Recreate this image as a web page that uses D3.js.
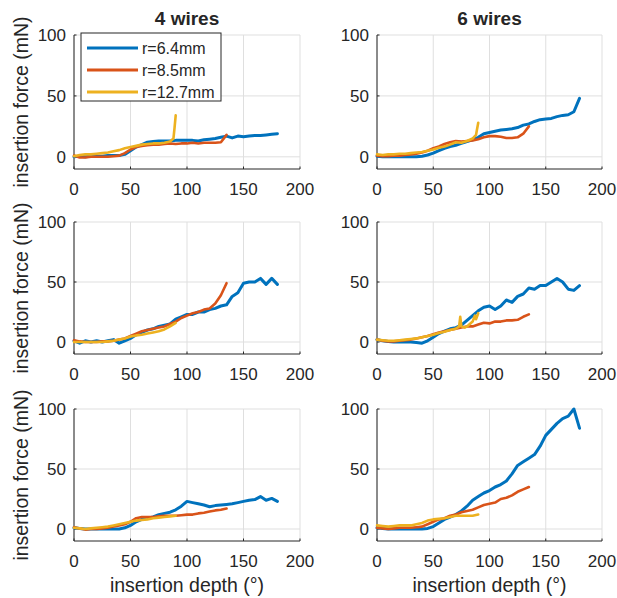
<!DOCTYPE html>
<html>
<head>
<meta charset="utf-8">
<script src="https://cdn.jsdelivr.net/npm/d3@7"></script>
<style>
  body { margin: 0; background: #fff; }
  text { font-family: "Liberation Sans", Arial, sans-serif; fill: #262626; }
</style>
</head>
<body>
<div id="chart"></div>
<script>
// insertion depth grids (deg)
const depth180 = [0,5,10,15,20,25,30,35,40,45,50,55,60,65,70,75,80,85,90,95,100,105,110,115,120,125,130,135,140,145,150,155,160,165,170,175,180];
const depth135 = [0,5,10,15,20,25,30,35,40,45,50,55,60,65,70,75,80,85,90,95,100,105,110,115,120,125,130,135];
const depth90 = [0,5,10,15,20,25,30,35,40,45,50,55,60,65,70,75,80,85,90];
const depth90spike = [0,5,10,15,20,25,30,35,40,45,50,55,60,65,70,75,80,85,88,89,90];
const depth90kink = [0,5,10,15,20,25,30,35,40,45,50,55,60,65,70,73,74,75,78,80,85,87,88,90];

// 4 wires, trial 1
const a_r64 = [0,0.5,0,0.5,0.5,0.5,1,1,1,2,5,8,10,12,12.5,13,13,13,13.5,13.5,13.5,13.5,13,14,14.5,15,16,17,15.5,17,16.5,17,17.5,17.5,18,18.5,19];
const a_r85 = [1,-0.5,-0.5,0,0,0,0,0.5,1,3,6,8,9,9.5,10,10,10.5,11,10.5,11,11,11.5,11,11.5,11.5,11.5,12,18];
const a_r127 = [0.5,1.5,2,2,2.5,3,3.5,4.5,5.5,7,8,9,10,10.5,11,11,11.5,12.5,15,24,34];
// 6 wires, trial 1
const b_r64 = [0.5,0,0,0,0,0,0,0,0.5,1.5,3,5,7,8.5,9.5,11,12.5,14,16,19,20,21,22,22.5,23,24,26,27,29,30.5,31,31.5,33,34,34.5,37,48];
const b_r85 = [1,0.5,0.5,1,1,1.5,2,2.5,3.5,5,7,8.5,10.5,12,13,12.5,13,13.5,14.5,16,17,17,16.5,15.5,15.5,16,19,25];
const b_r127 = [2,1.5,2,2,2.5,2.5,3,3.5,4,5,6,7.5,8.5,10,12,11.5,13,15,18,23,28];
// 4 wires, trial 2
const c_r64 = [1,-1,1,0,1,0,1,2,-1,1,3,6,8,10,11,13,14,15,19,21,23,23,25,25,27,28,30,31,38,41,49,50,50,53,48,53,48];
const c_r85 = [1.5,0.5,0,0,0,0.5,0.5,1,2,3,5,7,9,10,11,12,13,15,17,20,22,24,25,27,28,32,39,49];
const c_r127 = [0,0,0,0,0,0,0.5,1,2,3,4.5,5.5,6,7,8,9,10.5,13,16];
// 6 wires, trial 2
const d_r64 = [2,1,0.5,0,0,0,0,-0.5,-1,1,4,7,9,11,12,14,18,22,26,29,30,27,30,35,33,38,40,45,44,47,47,50,53,50,44,43,47];
const d_r85 = [2,1,0.5,0.5,1,1.5,2,3,4,5,6.5,8,9,10,11,12,13,13,14.5,16,15.5,17,17,18,18,18.5,21,23];
const d_r127 = [2,1.5,1,1,1.5,2,2.5,3,4,5,6,7.5,8.5,10,11,13,21,13,12,13,17,22,19,24];
// 4 wires, trial 3
const e_r64 = [1,0.5,0,0,0,0,0,0,0,1,3,6,8,9,10,12,13,14,16,19,23,22,21,20,18.5,19.5,20,20.5,21,22,23,24,24.5,27,24,25.5,23];
const e_r85 = [1.5,0.5,-0.5,0,0,0.5,1,2,3,4,6,9,10,10,10,10.5,11,11,11,11.5,12,12,13,13.5,14.5,15.5,16,17];
const e_r127 = [1,0.5,0,0.5,1,1.5,2,3,4,5,6,7,7.5,8,9,9.5,10,10.5,11];
// 6 wires, trial 3
const f_r64 = [1,0.5,0,0,0,0,0,0,0,0.5,2,5,8,10,12,15,19,24,27,30,32,35,37,40,46,53,56,59,62,69,78,83,88,92,94,100,84];
const f_r85 = [1,0.5,0,0.5,1,1,1,1.5,2,4,6,8,9,11,12,14,15,16,18,20,21,22,25,26,28,31,33,35];
const f_r127 = [3,2.5,2,2.5,3,3,3,4,5,7,8,8.5,9,10,11,11,11,11,12];

const radii = ["r=6.4mm", "r=8.5mm", "r=12.7mm"];
const colors = ["#0072BD", "#D95319", "#EDB120"];
const titles = ["4 wires", "6 wires"];
const xTicks = [0, 50, 100, 150, 200];
const yTicks = [0, 50, 100];

// panels: [row][col] -> three series (x, y)
const panels = [
  [[[depth180, a_r64], [depth135, a_r85], [depth90spike, a_r127]],
   [[depth180, b_r64], [depth135, b_r85], [depth90spike, b_r127]]],
  [[[depth180, c_r64], [depth135, c_r85], [depth90, c_r127]],
   [[depth180, d_r64], [depth135, d_r85], [depth90kink, d_r127]]],
  [[[depth180, e_r64], [depth135, e_r85], [depth90, e_r127]],
   [[depth180, f_r64], [depth135, f_r85], [depth90, f_r127]]]
];

const W = 617, H = 598;
const cols = [{x0: 74, x1: 300}, {x0: 377, x1: 602}];
const rows = [{y0: 35, y1: 169}, {y0: 222, y1: 354}, {y0: 409, y1: 541}];

const svg = d3.select("#chart").append("svg")
  .attr("width", W)
  .attr("height", H);

const line = d3.line().curve(d3.curveLinear);

rows.forEach((r, ri) => {
  cols.forEach((c, ci) => {
    const x = d3.scaleLinear().domain([0, 200]).range([c.x0, c.x1]);
    const y = d3.scaleLinear().domain([-10, 100]).range([r.y1, r.y0]);
    const g = svg.append("g");

    // grid
    g.selectAll(".gx").data(xTicks).enter().append("line")
      .attr("x1", d => x(d)).attr("x2", d => x(d))
      .attr("y1", r.y0).attr("y2", r.y1)
      .attr("stroke", "#dfdfdf").attr("stroke-width", 1);
    g.selectAll(".gy").data(yTicks).enter().append("line")
      .attr("x1", c.x0).attr("x2", c.x1)
      .attr("y1", d => y(d)).attr("y2", d => y(d))
      .attr("stroke", "#dfdfdf").attr("stroke-width", 1);

    // axis lines (left + bottom)
    g.append("line").attr("x1", c.x0).attr("x2", c.x0).attr("y1", r.y0).attr("y2", r.y1)
      .attr("stroke", "#262626");
    g.append("line").attr("x1", c.x0).attr("x2", c.x1).attr("y1", r.y1).attr("y2", r.y1)
      .attr("stroke", "#262626");
    // small inward ticks
    g.selectAll(".tx").data(xTicks).enter().append("line")
      .attr("x1", d => x(d)).attr("x2", d => x(d))
      .attr("y1", r.y1).attr("y2", r.y1 - 2.5).attr("stroke", "#262626");
    g.selectAll(".ty").data(yTicks).enter().append("line")
      .attr("x1", c.x0).attr("x2", c.x0 + 2.5)
      .attr("y1", d => y(d)).attr("y2", d => y(d)).attr("stroke", "#262626");

    // tick labels
    g.selectAll(".lx").data(xTicks).enter().append("text")
      .attr("x", d => x(d)).attr("y", r.y1 + 26)
      .attr("text-anchor", "middle").attr("font-size", 17)
      .text(d => d);
    g.selectAll(".ly").data(yTicks).enter().append("text")
      .attr("x", c.x0 - 8).attr("y", d => y(d)).attr("dy", "0.36em")
      .attr("text-anchor", "end").attr("font-size", 17)
      .text(d => d);

    // series
    panels[ri][ci].forEach((s, si) => {
      const pts = s[0].map((d, i) => [x(d), y(s[1][i])]);
      g.append("path")
        .attr("d", line(pts))
        .attr("fill", "none")
        .attr("stroke", colors[si])
        .attr("stroke-width", si === 0 ? 3 : 2.6)
        .attr("stroke-linejoin", "round")
        .attr("stroke-linecap", "round");
    });

    if (ci === 0) {
      g.append("text")
        .attr("transform", `translate(28,${(r.y0 + r.y1) / 2})rotate(-90)`)
        .attr("text-anchor", "middle").attr("font-size", 19.5)
        .text("insertion force (mN)");
    }
    if (ri === 0) {
      g.append("text")
        .attr("x", (c.x0 + c.x1) / 2).attr("y", 25)
        .attr("text-anchor", "middle").attr("font-size", 19)
        .attr("font-weight", "bold")
        .text(titles[ci]);
    }
    if (ri === 2) {
      g.append("text")
        .attr("x", (c.x0 + c.x1) / 2).attr("y", 592)
        .attr("text-anchor", "middle").attr("font-size", 19.5)
        .text("insertion depth (°)");
    }
  });
});

// legend in first panel
const leg = svg.append("g");
leg.append("rect")
  .attr("x", 81).attr("y", 33).attr("width", 140).attr("height", 68)
  .attr("fill", "#fff").attr("stroke", "#262626").attr("stroke-width", 1);
radii.forEach((r, i) => {
  const ly = 48 + i * 22;
  leg.append("line")
    .attr("x1", 87).attr("x2", 138).attr("y1", ly).attr("y2", ly)
    .attr("stroke", colors[i]).attr("stroke-width", 3);
  leg.append("text")
    .attr("x", 142).attr("y", ly).attr("dy", "0.36em")
    .attr("font-size", 16)
    .text(r);
});
</script>
</body>
</html>
